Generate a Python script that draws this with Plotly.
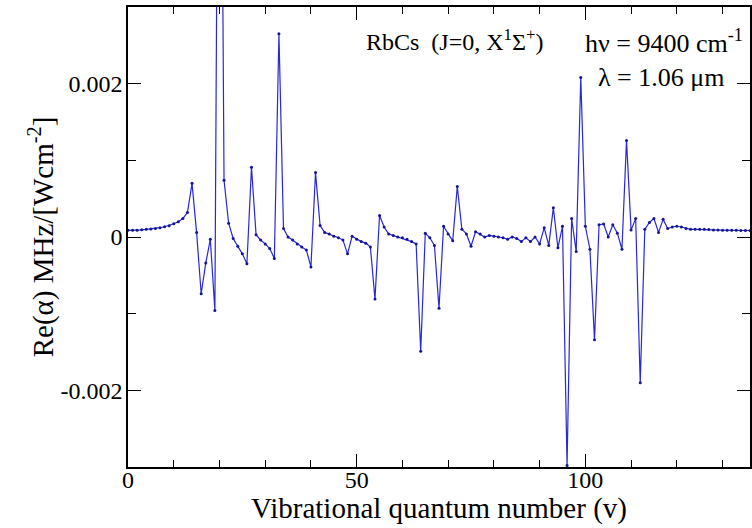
import plotly.graph_objects as go

v = list(range(0, 137))
re_alpha = [
    0.000087, 0.000087, 0.000088, 0.000094, 0.000100, 0.000104, 0.000112, 0.000121, 0.000134, 0.000148,
    0.000172, 0.000200, 0.000240, 0.000320, 0.000700, 0.000060, -0.000740, -0.000340, -0.000030, -0.000960,
    0.009700, 0.000740, 0.000180, -0.000020, -0.000120, -0.000220, -0.000350, 0.000910, 0.000030, -0.000040,
    -0.000090, -0.000150, -0.000280, 0.002650, 0.000110, 0.000000, -0.000040, -0.000090, -0.000130, -0.000170,
    -0.000390, 0.000840, 0.000150, 0.000060, 0.000040, 0.000010, -0.000010, -0.000040, -0.000220, 0.000010,
    -0.000030, -0.000060, -0.000080, -0.000130, -0.000810, 0.000280, 0.000130, 0.000040, 0.000020, 0.000000,
    -0.000010, -0.000030, -0.000060, -0.000090, -0.001490, 0.000050, -0.000010, -0.000110, -0.000930, 0.000140,
    0.000040, -0.000050, 0.000660, 0.000100, 0.000040, -0.000120, 0.000070, 0.000040, 0.000000, 0.000020,
    0.000010, 0.000000, -0.000010, -0.000030, 0.000000, -0.000020, -0.000060, -0.000010, -0.000060, 0.000000,
    -0.000090, 0.000120, -0.000110, 0.000380, -0.000140, 0.000140, -0.002980, 0.000240, -0.000190, 0.002080,
    0.000140, -0.000160, -0.001340, 0.000160, 0.000170, 0.000000, 0.000160, 0.000050, -0.000160, 0.001260,
    0.000090, 0.000240, -0.001900, 0.000100, 0.000190, 0.000240, 0.000060, 0.000230, 0.000110, 0.000130,
    0.000140, 0.000130, 0.000110, 0.000100, 0.000100, 0.000100, 0.000100, 0.000098, 0.000092, 0.000090,
    0.000089, 0.000088, 0.000087, 0.000087, 0.000086, 0.000086, 0.000085,
]

x_tickvals = [0, 50, 100]
x_ticktext = ["0", "50", "100"]
y_tickvals = [-0.002, 0, 0.002]
y_ticktext = ["-0.002", "0", "0.002"]

FONT = "Liberation Serif, Times New Roman, serif"

fig = go.Figure()
fig.add_trace(go.Scatter(
    x=v, y=re_alpha, mode="lines+markers",
    line=dict(color="rgb(40,40,215)", width=1.2),
    marker=dict(color="rgb(20,20,150)", size=3, symbol="circle"),
    showlegend=False,
))

axis_common = dict(
    showline=True, linecolor="black", linewidth=1.5, mirror="ticks",
    ticks="inside", ticklen=13, tickwidth=1, tickcolor="black",
    showgrid=False, zeroline=False,
    tickfont=dict(family=FONT, size=24, color="black"),
)

fig.update_xaxes(
    range=[0, 136], tickmode="array", tickvals=x_tickvals, ticktext=x_ticktext,
    minor=dict(dtick=10, tick0=0, ticks="inside", ticklen=7, tickcolor="black", tickwidth=1, showgrid=False),
    ticklabelstandoff=-10,
    **axis_common,
)
fig.update_yaxes(
    range=[-0.003, 0.003], tickmode="array", tickvals=y_tickvals, ticktext=y_ticktext,
    minor=dict(dtick=0.001, tick0=0, ticks="inside", ticklen=8, tickcolor="black", tickwidth=1, showgrid=False),
    ticklabelstandoff=-1,
    **axis_common,
)

annots = [
    dict(text="Vibrational quantum number (v)", x=0.5, y=-0.0913, xanchor="center", yanchor="middle",
         font=dict(size=29)),
    dict(text="Re(α) MHz/[Wcm<sup>-2</sup>]", x=-0.1394, y=0.5, xanchor="center", yanchor="middle",
         textangle=-90, font=dict(size=29)),
    dict(text="RbCs  (J=0, X<sup>1</sup>Σ<sup>+</sup>)", x=0.3798, y=0.9283, xanchor="left", yanchor="middle",
         font=dict(size=24)),
    dict(text="hν = 9400 cm<sup>-1</sup>", x=0.7308, y=0.926, xanchor="left", yanchor="middle",
         font=dict(size=26)),
    dict(text="λ = 1.06 μm", x=0.7532, y=0.8478, xanchor="left", yanchor="middle",
         font=dict(size=26)),
]
for a in annots:
    f = a.pop("font")
    fig.add_annotation(xref="paper", yref="paper", showarrow=False,
                       font=dict(family=FONT, color="black", **f), **a)

fig.update_layout(
    width=752, height=528,
    margin=dict(l=128, r=0, t=7, b=61),
    paper_bgcolor="white", plot_bgcolor="white",
)

fig.write_html("out.html")
